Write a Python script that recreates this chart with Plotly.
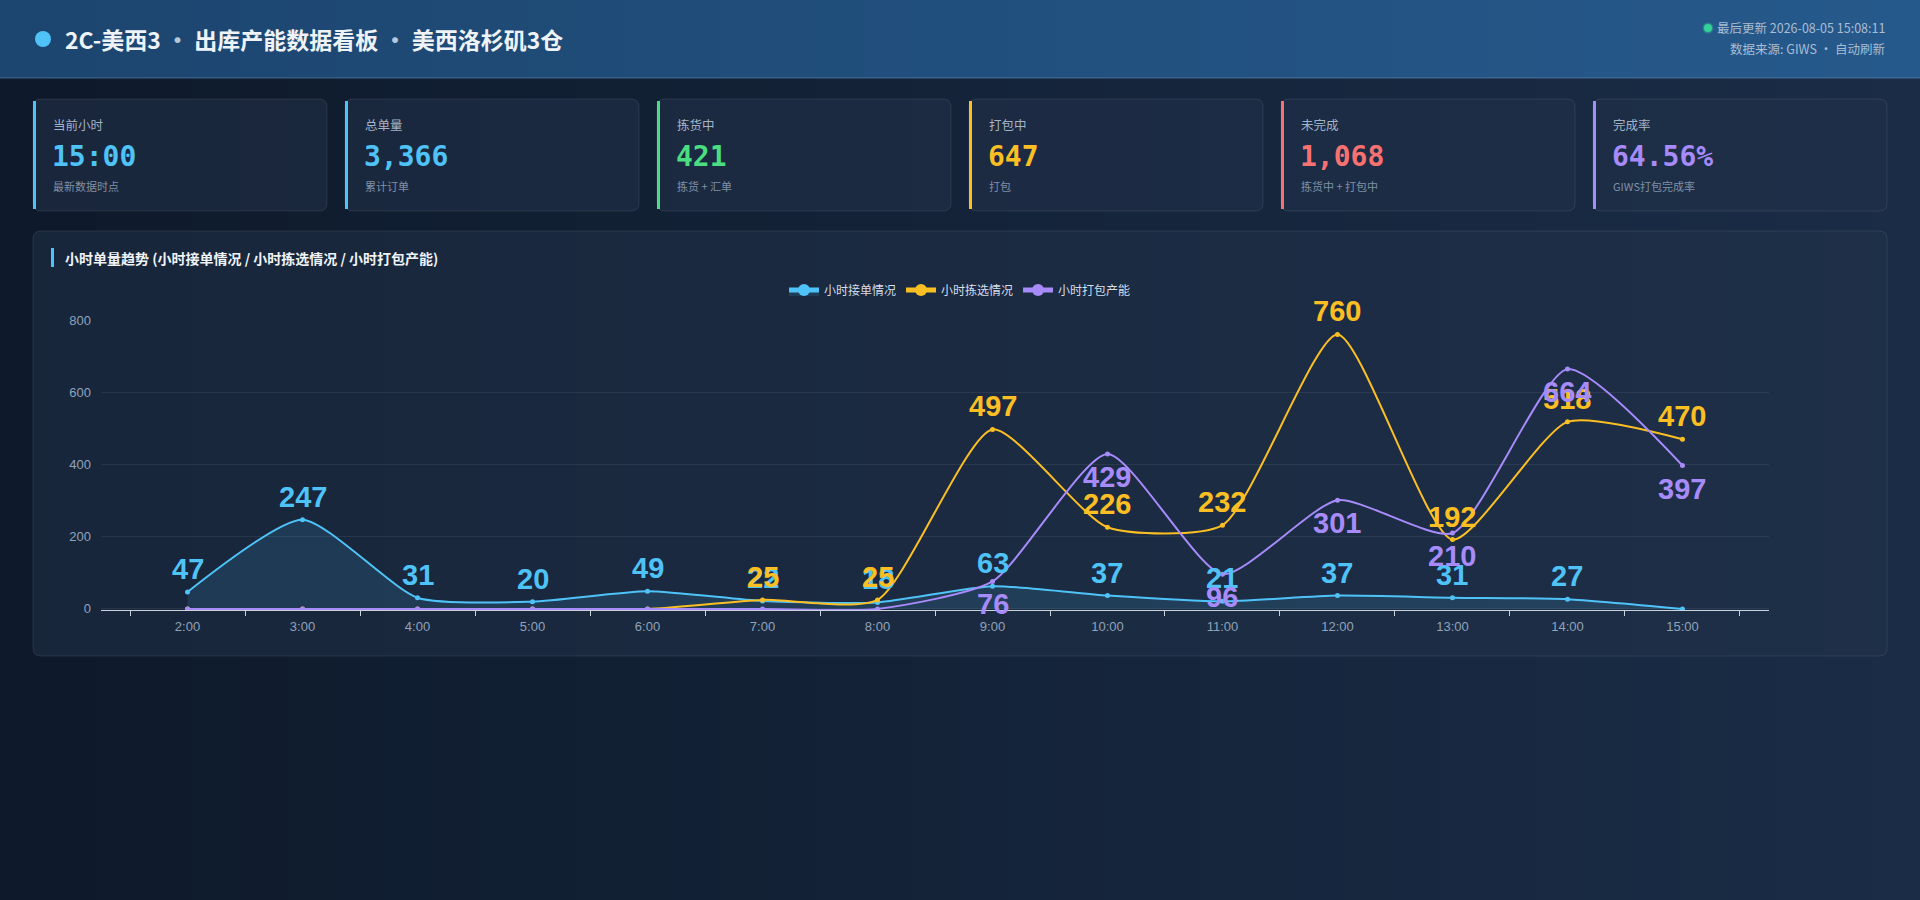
import plotly.graph_objects as go

W, H = 1920, 900

hours = ["2:00", "3:00", "4:00", "5:00", "6:00", "7:00", "8:00",
         "9:00", "10:00", "11:00", "12:00", "13:00", "14:00", "15:00"]
receive = [47, 247, 31, 20, 49, 22, 18, 63, 37, 21, 37, 31, 27, 0]
pick = [0, 0, 0, 0, 0, 25, 25, 497, 226, 232, 760, 192, 518, 470]
pack = [0, 0, 0, 0, 0, 0, 0, 76, 429, 96, 301, 210, 664, 397]

series_names = ["小时接单情况", "小时拣选情况", "小时打包产能"]
series_colors = ["#4fc3f7", "#fbbf24", "#a78bfa"]

card_titles = ["当前小时", "总单量", "拣货中", "打包中", "未完成", "完成率"]
card_values = ["15:00", "3,366", "421", "647", "1,068", "64.56%"]
card_notes = ["最新数据时点", "累计订单", "拣货 + 汇单", "打包", "拣货中 + 打包中", "GIWS打包完成率"]
card_colors = ["#4fc3f7", "#4fc3f7", "#4ade80", "#fbbf24", "#f87171", "#a78bfa"]

title = "2C-美西3 · 出库产能数据看板 · 美西洛杉矶3仓"
update_text = "最后更新 2026-08-05 15:08:11"
source_text = "数据来源: GIWS · 自动刷新"
chart_title = "小时单量趋势 (小时接单情况 / 小时拣选情况 / 小时打包产能)"

CJK = "Noto Sans CJK SC, Noto Sans, sans-serif"
MONO = "DejaVu Sans Mono, monospace"
SANS = "Liberation Sans, Arial, sans-serif"


def px(x):
    return x / W


def py(y):
    return 1 - y / H


def rrect(x0, y0, x1, y1, r):
    return (f"M{px(x0 + r)},{py(y0)} L{px(x1 - r)},{py(y0)} "
            f"Q{px(x1)},{py(y0)} {px(x1)},{py(y0 + r)} L{px(x1)},{py(y1 - r)} "
            f"Q{px(x1)},{py(y1)} {px(x1 - r)},{py(y1)} L{px(x0 + r)},{py(y1)} "
            f"Q{px(x0)},{py(y1)} {px(x0)},{py(y1 - r)} L{px(x0)},{py(y0 + r)} "
            f"Q{px(x0)},{py(y0)} {px(x0 + r)},{py(y0)} Z")


def mix(c1, c2, t):
    a = [int(c1[i:i + 2], 16) for i in (1, 3, 5)]
    b = [int(c2[i:i + 2], 16) for i in (1, 3, 5)]
    return "rgb(%d,%d,%d)" % tuple(round(a[k] + (b[k] - a[k]) * t) for k in range(3))


shapes = []
annotations = []

# page background, rough left->right gradient
n = 40
for i in range(n):
    shapes.append(dict(type="rect", xref="paper", yref="paper", layer="below",
                       x0=i / n, x1=(i + 1) / n + 0.001, y0=0, y1=py(78),
                       fillcolor=mix("#0e1a2b", "#1a2c46", i / (n - 1)), line_width=0))
# header band
for i in range(n):
    shapes.append(dict(type="rect", xref="paper", yref="paper", layer="below",
                       x0=i / n, x1=(i + 1) / n + 0.001, y0=py(78), y1=1,
                       fillcolor=mix("#1c456f", "#26598b", i / (n - 1)), line_width=0))
shapes.append(dict(type="line", xref="paper", yref="paper", layer="below",
                   x0=0, x1=1, y0=py(78), y1=py(78),
                   line=dict(color="rgba(120,170,220,0.45)", width=1)))

# header title
shapes.append(dict(type="circle", xref="paper", yref="paper", layer="below",
                   x0=px(35), x1=px(51), y0=py(31), y1=py(47),
                   fillcolor="#4fc3f7", line_width=0))
dot = "<span style='color:#b6c7da'> · </span>"
annotations.append(dict(xref="paper", yref="paper", x=px(63), y=py(39),
                        xanchor="left", yanchor="middle", showarrow=False,
                        text="<b>" + title.replace(" · ", dot) + "</b>",
                        font=dict(family=CJK, size=23, color="#eef3f8")))
shapes.append(dict(type="circle", xref="paper", yref="paper", layer="below",
                   x0=px(1704), x1=px(1712), y0=py(24), y1=py(32),
                   fillcolor="#34d399", line=dict(color="rgba(52,211,153,0.35)", width=3)))
annotations.append(dict(xref="paper", yref="paper", x=px(1887), y=py(28),
                        xanchor="right", yanchor="middle", showarrow=False,
                        text=update_text, font=dict(family=CJK, size=12.5, color="#a9bdd3")))
annotations.append(dict(xref="paper", yref="paper", x=px(1887), y=py(49),
                        xanchor="right", yanchor="middle", showarrow=False,
                        text=source_text, font=dict(family=CJK, size=12.5, color="#a9bdd3")))

# kpi cards
for i in range(len(card_titles)):
    x0 = 33 + i * 312
    x1 = x0 + 294
    shapes.append(dict(type="path", xref="paper", yref="paper", layer="below",
                       path=rrect(x0, 99, x1, 211, 8),
                       fillcolor="rgba(34,50,74,0.55)",
                       line=dict(color="rgba(255,255,255,0.09)", width=1)))
    shapes.append(dict(type="rect", xref="paper", yref="paper", layer="below",
                       x0=px(x0), x1=px(x0 + 3), y0=py(101), y1=py(209),
                       fillcolor=card_colors[i], line_width=0))
    annotations.append(dict(xref="paper", yref="paper", x=px(x0 + 18), y=py(125),
                            xanchor="left", yanchor="middle", showarrow=False,
                            text=card_titles[i], font=dict(family=CJK, size=12.5, color="#a3b3c7")))
    annotations.append(dict(xref="paper", yref="paper", x=px(x0 + 17), y=py(157),
                            xanchor="left", yanchor="middle", showarrow=False,
                            text="<b>" + card_values[i] + "</b>",
                            font=dict(family=MONO, size=28, color=card_colors[i])))
    annotations.append(dict(xref="paper", yref="paper", x=px(x0 + 18), y=py(186),
                            xanchor="left", yanchor="middle", showarrow=False,
                            text=card_notes[i], font=dict(family=CJK, size=11, color="#7f90a6")))

# chart panel
shapes.append(dict(type="path", xref="paper", yref="paper", layer="below",
                   path=rrect(33, 231, 1887, 656, 8),
                   fillcolor="rgba(34,50,74,0.5)",
                   line=dict(color="rgba(255,255,255,0.09)", width=1)))
shapes.append(dict(type="rect", xref="paper", yref="paper", layer="below",
                   x0=px(51), x1=px(54), y0=py(248), y1=py(267),
                   fillcolor="#4fc3f7", line_width=0))
annotations.append(dict(xref="paper", yref="paper", x=px(63), y=py(258),
                        xanchor="left", yanchor="middle", showarrow=False,
                        text="<b>" + chart_title + "</b>",
                        font=dict(family=CJK, size=14, color="#eef3f8")))

fig = go.Figure()
all_series = [receive, pick, pack]
for k, vals in enumerate(all_series):
    fig.add_trace(go.Scatter(
        x=hours, y=vals, name=series_names[k], mode="lines+markers",
        line=dict(color=series_colors[k], width=2, shape="spline", smoothing=0.6),
        marker=dict(color=series_colors[k], size=5),
        fill="tozeroy" if k == 0 else None,
        fillcolor="rgba(79,195,247,0.13)",
    ))
    below = k == 2
    for h, v in zip(hours, vals):
        if v == 0:
            continue
        annotations.append(dict(x=h, y=v, xref="x", yref="y", text="<b>%d</b>" % v, showarrow=False,
                                yanchor="top" if below else "bottom",
                                yshift=-5 if below else 5,
                                font=dict(family=SANS, size=29, color=series_colors[k])))

fig.update_layout(
    width=W, height=H,
    margin=dict(l=0, r=0, t=0, b=0, pad=0, autoexpand=False),
    paper_bgcolor="#142238",
    plot_bgcolor="rgba(0,0,0,0)",
    shapes=shapes,
    annotations=annotations,
    showlegend=True,
    legend=dict(orientation="h", x=0.5, xanchor="center", y=py(290), yanchor="middle",
                font=dict(family=CJK, size=12, color="#d5deea"),
                bgcolor="rgba(0,0,0,0)", itemsizing="constant"),
    xaxis=dict(domain=[px(101), px(1769)], type="category", layer="below traces",
               showline=True, linecolor="#c9d2dd", linewidth=1, automargin=False,
               ticks="outside", tickson="boundaries", ticklen=5, tickcolor="#c9d2dd",
               showgrid=False, ticklabelstandoff=4,
               tickfont=dict(family=SANS, size=13, color="#8fa3bb")),
    yaxis=dict(domain=[py(610), py(320)], range=[-3, 800], tickvals=[0, 200, 400, 600, 800],
               showline=False, zeroline=False, gridcolor="rgba(255,255,255,0.07)",
               ticks="", ticklabelstandoff=9, layer="below traces", automargin=False,
               tickfont=dict(family=SANS, size=13, color="#8fa3bb")),
)

page_js = ("document.body.style.margin='0';document.body.style.overflow='hidden';"
           "document.body.style.background='#142238';"
           "var d=document.getElementById('{plot_id}');"
           "d.style.position='fixed';d.style.top='0';d.style.left='0';")
fig.write_html("out.html", config={"displayModeBar": False}, post_script=page_js)
